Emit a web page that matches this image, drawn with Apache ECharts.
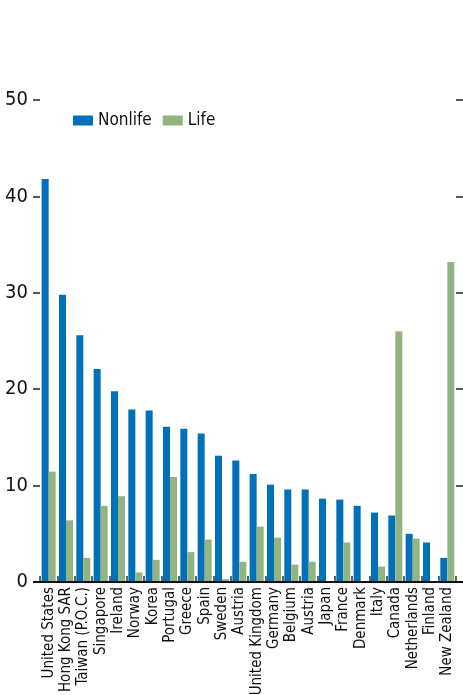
<!DOCTYPE html>
<html><head><meta charset="utf-8">
<script src="https://cdn.jsdelivr.net/npm/echarts@6/dist/echarts.min.js"></script>
<style>html,body{margin:0;padding:0;background:#fff}#c{width:463px;height:695px}</style>
</head><body><div id="c"></div>
<script>
const categories = ['United States','Hong Kong SAR','Taiwan (P.O.C.)','Singapore','Ireland','Norway','Korea','Portugal','Greece','Spain','Sweden','Austria','United Kingdom','Germany','Belgium','Austria','Japan','France','Denmark','Italy','Canada','Netherlands','Finland','New Zealand'];
const nonlife = [41.8,29.8,25.6,22.1,19.8,17.9,17.8,16.1,15.9,15.4,13.1,12.6,11.2,10.1,9.6,9.6,8.65,8.55,7.9,7.2,6.9,5.0,4.1,2.5];
const life = [11.45,6.4,2.5,7.9,8.9,1.0,2.3,10.9,3.1,4.4,0.3,2.1,5.75,4.6,1.8,2.1,0,4.1,0,1.6,26.0,4.5,0,33.2];
const yMin = 0, yMax = 50, yStep = 10;
const subtitle = '(Percent)';

const FONT = '"Liberation Sans Narrow","DejaVu Sans Condensed","Liberation Sans",sans-serif';
const BLUE = '#0070b8', GREEN = '#93b47f';
const GL = 40, GR = 7, GT = 100, GB = 113;

const chart = echarts.init(document.getElementById('c'), null, {renderer:'canvas'});
const yCommon = {
  type:'value', min:yMin, max:yMax, interval:yStep,
  splitLine:{show:false}, axisLine:{show:false},
  axisTick:{show:true, length:7, lineStyle:{color:'#222', width:1.5}}
};
chart.setOption({
  animation:false,
  textStyle:{fontFamily:FONT},
  title:{text:subtitle, left:6, top:-20.5, textStyle:{fontFamily:FONT, fontSize:18, fontWeight:'normal', color:'#4c9e3d'}},
  legend:{
    data:['Nonlife','Life'], left:68, top:107, itemWidth:20, itemHeight:10, itemGap:11,
    icon:'rect', textStyle:{fontFamily:FONT, fontSize:17, color:'#111'}
  },
  grid:{left:GL, right:GR, top:GT, bottom:GB, containLabel:false, outerBoundsMode:'none'},
  xAxis:{
    type:'category', data:categories,
    axisLine:{show:false},
    axisTick:{show:true, inside:true, length:6, interval:0, lineStyle:{color:'#333', width:1.5}},
    axisLabel:{rotate:90, interval:0, margin:5, fontFamily:FONT, fontSize:15, color:'#111'}
  },
  yAxis:[
    Object.assign({}, yCommon, {position:'left', axisLabel:{margin:12, fontFamily:FONT, fontSize:20, color:'#111'}}),
    Object.assign({}, yCommon, {position:'right', axisLabel:{show:false}})
  ],
  series:[
    {name:'Nonlife', type:'bar', data:nonlife, itemStyle:{color:BLUE}, barGap:'0%', barCategoryGap:'19%'},
    {name:'Life', type:'bar', data:life, itemStyle:{color:GREEN}, barGap:'0%', barCategoryGap:'19%'}
  ]
});
const y0 = chart.convertToPixel({yAxisIndex:0}, 0);
chart.setOption({graphic:[{type:'line', shape:{x1:GL-7, y1:y0, x2:chart.getWidth(), y2:y0}, style:{stroke:'#111', lineWidth:2}, z:10}]});
</script></body></html>
